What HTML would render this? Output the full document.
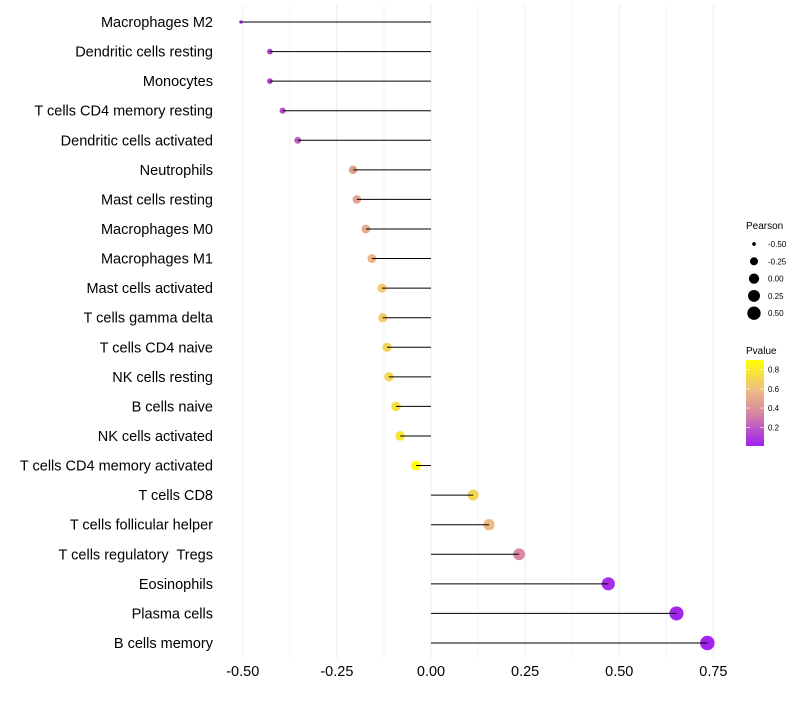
<!DOCTYPE html>
<html><head><meta charset="utf-8"><style>
body{margin:0;background:#fff;font-family:"Liberation Sans",sans-serif}
text{white-space:pre}
</style></head><body>
<svg id="chart" width="800" height="700" xmlns="http://www.w3.org/2000/svg"></svg>
<script>
const categories=["Macrophages M2","Dendritic cells resting","Monocytes","T cells CD4 memory resting","Dendritic cells activated","Neutrophils","Mast cells resting","Macrophages M0","Macrophages M1","Mast cells activated","T cells gamma delta","T cells CD4 naive","NK cells resting","B cells naive","NK cells activated","T cells CD4 memory activated","T cells CD8","T cells follicular helper","T cells regulatory  Tregs","Eosinophils","Plasma cells","B cells memory"];
const pearson=[-0.505,-0.428,-0.428,-0.394,-0.354,-0.207,-0.197,-0.173,-0.157,-0.130,-0.128,-0.117,-0.112,-0.093,-0.082,-0.040,0.112,0.154,0.234,0.471,0.652,0.734];
const pvalue=[0.02,0.1,0.1,0.15,0.2,0.45,0.47,0.5,0.55,0.65,0.65,0.7,0.7,0.75,0.78,0.9,0.7,0.57,0.35,0.05,0.02,0.01];
const xTicks=[-0.5,-0.25,0,0.25,0.5,0.75];
const xTickLabels=["-0.50","-0.25","0.00","0.25","0.50","0.75"];
const sizeLegend=[-0.5,-0.25,0,0.25,0.5];
const sizeLegendLabels=["-0.50","-0.25","0.00","0.25","0.50"];
const pTicks=[0.2,0.4,0.6,0.8];

const svg=document.getElementById('chart');
const NS='http://www.w3.org/2000/svg';
function mk(t,a,p){const e=document.createElementNS(NS,t);for(const k in a)e.setAttribute(k,a[k]);(p||svg).appendChild(e);return e;}
const x=v=>431+v*376.5;
const y=i=>22+i*29.57;
const pMin=-0.51,pMax=0.75;
const rad=v=>1.3+6*Math.sqrt(Math.max(0,(v-pMin)/(pMax-pMin)));
const stops=[[0,[160,32,240]],[0.35,[216,137,160]],[0.6,[240,192,128]],[0.9,[255,255,0]]];
function col(p){if(p<=0)p=0;if(p>=0.9)p=0.9;for(let i=0;i<stops.length-1;i++){const a=stops[i],b=stops[i+1];if(p<=b[0]){const t=(p-a[0])/(b[0]-a[0]);const c=a[1].map((v,j)=>Math.round(v+(b[1][j]-v)*t));return`rgb(${c.join(',')})`;}}return'rgb(255,255,0)';}

const grid=mk('g',{});


[-0.375,-0.125,0.125,0.375,0.625].forEach(v=>mk('line',{x1:x(v),x2:x(v),y1:5,y2:658,stroke:'#f2f2f2','stroke-width':1},grid));
xTicks.forEach(v=>mk('line',{x1:x(v),x2:x(v),y1:5,y2:658,stroke:'#ebebeb','stroke-width':1},grid));

categories.forEach((c,i)=>{
  const g=mk('g',{});
  
  
  mk('circle',{cx:x(pearson[i]),cy:y(i),r:rad(pearson[i]),fill:col(pvalue[i])},g);
  mk('line',{x1:x(0),x2:x(pearson[i]),y1:y(i),y2:y(i),stroke:'#000','stroke-width':1},g);
  const t=mk('text',{x:213,y:y(i)+5,'text-anchor':'end','font-size':14.5,fill:'#000'},g);
  t.textContent=c;
  
  
});
xTicks.forEach((v,i)=>{
  const t=mk('text',{x:x(v),y:676,'text-anchor':'middle','font-size':14.5,fill:'#000'});
  t.textContent=xTickLabels[i];
  
  
});
const sl=mk('g',{});


mk('text',{x:746,y:229,'font-size':10},sl).textContent='Pearson';
sizeLegend.forEach((v,i)=>{const cy=244+i*17.3;mk('circle',{cx:754,cy:cy,r:rad(v),fill:'#000'},sl);mk('text',{x:768,y:cy+3,'font-size':8},sl).textContent=sizeLegendLabels[i];});
const cl=mk('g',{});


mk('text',{x:746,y:354,'font-size':10},cl).textContent='Pvalue';
const defs=mk('defs',{});
const lg=mk('linearGradient',{id:'pg',x1:0,y1:1,x2:0,y2:0},defs);
stops.forEach(s=>mk('stop',{offset:s[0]/0.9,'stop-color':col(s[0])},lg));
const py=p=>446-(p-0.005)*(86/0.895);
mk('rect',{x:746,y:360,width:18,height:86,fill:'url(#pg)'},cl);
pTicks.forEach(p=>{mk('line',{x1:746,x2:750,y1:py(p),y2:py(p),stroke:'#fff','stroke-width':0.6},cl);mk('line',{x1:760,x2:764,y1:py(p),y2:py(p),stroke:'#fff','stroke-width':0.6},cl);mk('text',{x:768,y:py(p)+3,'font-size':8},cl).textContent=p.toFixed(1);});
</script>
</body></html>
